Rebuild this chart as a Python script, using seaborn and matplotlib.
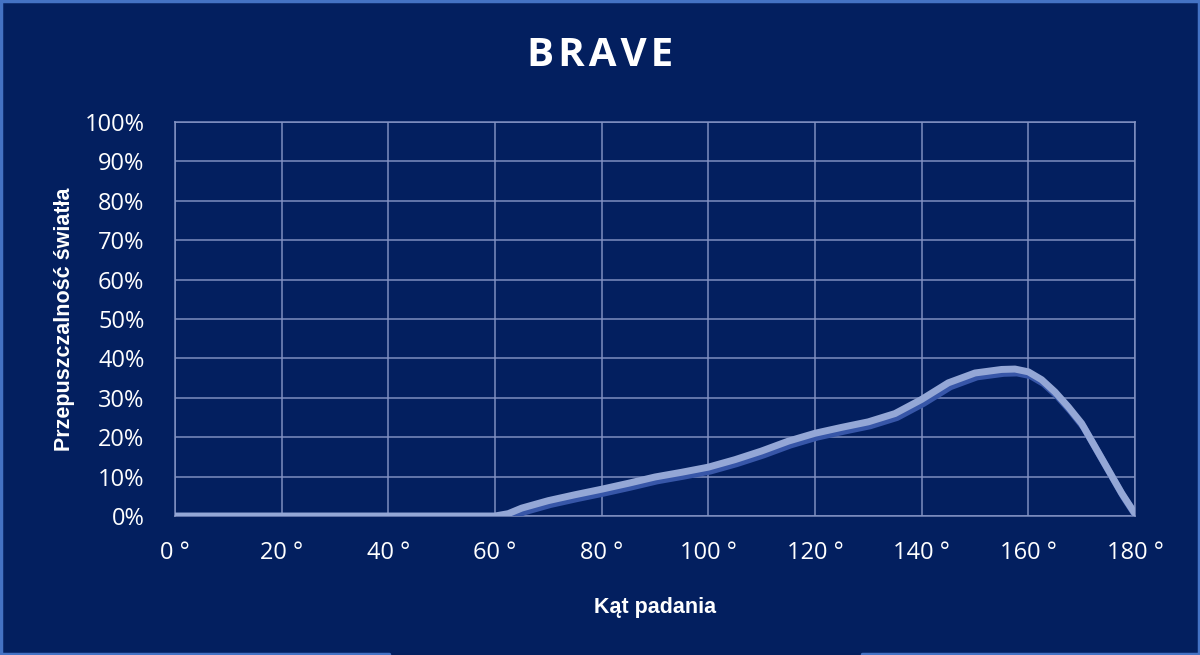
import matplotlib
matplotlib.use("Agg")
import matplotlib.pyplot as plt
import matplotlib.patheffects as pe
from matplotlib.lines import Line2D
from matplotlib.ticker import FuncFormatter
import seaborn as sns
import pandas as pd

# ---- data ----
angles = [0, 5, 10, 15, 20, 25, 30, 35, 40, 45, 50, 55, 60, 62.5, 65, 70, 75, 80, 85,
          90, 95, 100, 105, 110, 115, 120, 125, 130, 135, 140, 145, 150, 155, 157.5,
          160, 162.5, 165, 167.5, 170, 172.5, 175, 177.5, 180]
transmission = [0.0, 0.0, 0.0, 0.0, 0.0, 0.0, 0.0, 0.0, 0.0, 0.0, 0.0, 0.0, 0.0, 0.6,
                2.0, 3.9, 5.4, 6.8, 8.3, 9.9, 11.1, 12.4, 14.3, 16.5, 19.0, 21.0, 22.5,
                23.9, 26.0, 29.6, 33.8, 36.3, 37.2, 37.3, 36.6, 34.6, 31.5, 27.7, 23.5,
                17.6, 11.7, 5.8, 0.6]
x_ticks = [0, 20, 40, 60, 80, 100, 120, 140, 160, 180]
y_ticks = [0, 10, 20, 30, 40, 50, 60, 70, 80, 90, 100]
title = "BRAVE"
x_label = "Kąt padania"
y_label = "Przepuszczalność światła"

df = pd.DataFrame({"angle": angles, "value": transmission})

BG = "#031f5f"
GRID = "#8494c4"
LINE = "#94a7d6"
SHADOW = "#3756a8"
BORDER = "#4472c4"

sns.set_theme(style="white")
plt.rcParams["font.family"] = ["Open Sans", "DejaVu Sans"]

fig = plt.figure(figsize=(12, 6.55), dpi=100, facecolor=BG)
ax = fig.add_axes([0.1458, 0.2122, 0.8, 0.6015])
ax.set_facecolor(BG)

sns.lineplot(data=df, x="angle", y="value", ax=ax, color=LINE, linewidth=5.0,
             solid_capstyle="round", solid_joinstyle="round",
             path_effects=[pe.SimpleLineShadow(offset=(1.5, -2.8), shadow_color=SHADOW,
                                               alpha=1.0),
                           pe.Normal()],
             zorder=3)

ax.set_xlim(0, 180)
ax.set_ylim(0, 100)
ax.set_xticks(x_ticks)
ax.set_yticks(y_ticks)
ax.xaxis.set_major_formatter(FuncFormatter(lambda v, p: f"{int(v)} °"))
ax.yaxis.set_major_formatter(FuncFormatter(lambda v, p: f"{int(v)}%"))
ax.grid(True, color=GRID, linewidth=1.3, alpha=0.8)
ax.set_axisbelow(True)
for s in ax.spines.values():
    s.set_color(GRID)
    s.set_linewidth(1.3)
    s.set_alpha(0.8)
ax.tick_params(axis="both", colors="white", labelsize=17, length=0)
ax.tick_params(axis="x", pad=18)
ax.tick_params(axis="y", pad=22)

ax.set_xlabel(x_label, color="white", fontsize=15.5, fontweight="bold",
              family=["Liberation Sans", "DejaVu Sans"])
ax.set_ylabel(y_label, color="white", fontsize=15.5, fontweight="bold",
              family=["Liberation Sans", "DejaVu Sans"])
ax.xaxis.set_label_coords(0.5, -0.205)
ax.yaxis.set_label_coords(-0.104, 0.5)

spaced_title = "\u200a".join(title)
fig.text(0.5, 0.915, spaced_title, color="white", fontsize=29, fontweight="bold",
         ha="center", va="center", family=["Open Sans", "DejaVu Sans"])

# figure border (bottom edge partially open as in reference)
lw = 2.5
fig.add_artist(Line2D([0.001, 0.001], [0, 1], color=BORDER, lw=lw, transform=fig.transFigure))
fig.add_artist(Line2D([0.999, 0.999], [0, 1], color=BORDER, lw=lw, transform=fig.transFigure))
fig.add_artist(Line2D([0, 1], [0.998, 0.998], color=BORDER, lw=lw, transform=fig.transFigure))
fig.add_artist(Line2D([0, 0.324], [0.002, 0.002], color=BORDER, lw=lw, transform=fig.transFigure))
fig.add_artist(Line2D([0.718, 1], [0.002, 0.002], color=BORDER, lw=lw, transform=fig.transFigure))

fig.savefig("out.png", dpi=100, facecolor=BG)
